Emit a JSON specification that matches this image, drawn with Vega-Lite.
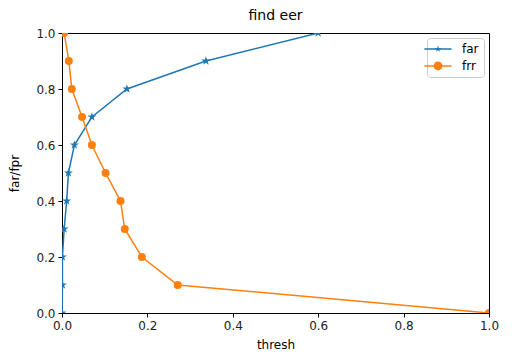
{
  "$schema": "https://vega.github.io/schema/vega-lite/v6.json",
  "autosize": "none",
  "width": 427,
  "height": 280,
  "padding": {"left": 62, "top": 33, "right": 37, "bottom": 43},
  "background": "white",
  "title": {"text": "find eer", "font": "DejaVu Sans", "fontSize": 14, "fontWeight": "normal", "color": "#000000", "offset": 4},
  "config": {
    "view": {"stroke": "#000000", "strokeWidth": 1},
    "axis": {
      "labelFont": "DejaVu Sans", "labelFontSize": 12, "labelColor": "#222222", "labelFlush": false, "labelOverlap": false,
      "titleFont": "DejaVu Sans", "titleFontSize": 12, "titleFontWeight": "normal", "titleColor": "#000000",
      "domainColor": "#000000", "tickColor": "#000000", "tickSize": 4, "labelPadding": 3, "grid": false
    }
  },
  "data": {"values": [
    {"series": "far", "i": 0, "thresh": 0.0, "rate": 0.0},
    {"series": "far", "i": 1, "thresh": 0.001, "rate": 0.1},
    {"series": "far", "i": 2, "thresh": 0.001, "rate": 0.2},
    {"series": "far", "i": 3, "thresh": 0.005, "rate": 0.3},
    {"series": "far", "i": 4, "thresh": 0.011, "rate": 0.4},
    {"series": "far", "i": 5, "thresh": 0.015, "rate": 0.5},
    {"series": "far", "i": 6, "thresh": 0.029, "rate": 0.6},
    {"series": "far", "i": 7, "thresh": 0.07, "rate": 0.7},
    {"series": "far", "i": 8, "thresh": 0.152, "rate": 0.8},
    {"series": "far", "i": 9, "thresh": 0.337, "rate": 0.9},
    {"series": "far", "i": 10, "thresh": 0.6, "rate": 1.0},
    {"series": "frr", "i": 0, "thresh": 0.005, "rate": 1.0},
    {"series": "frr", "i": 1, "thresh": 0.016, "rate": 0.9},
    {"series": "frr", "i": 2, "thresh": 0.023, "rate": 0.8},
    {"series": "frr", "i": 3, "thresh": 0.047, "rate": 0.7},
    {"series": "frr", "i": 4, "thresh": 0.07, "rate": 0.6},
    {"series": "frr", "i": 5, "thresh": 0.102, "rate": 0.5},
    {"series": "frr", "i": 6, "thresh": 0.137, "rate": 0.4},
    {"series": "frr", "i": 7, "thresh": 0.147, "rate": 0.3},
    {"series": "frr", "i": 8, "thresh": 0.187, "rate": 0.2},
    {"series": "frr", "i": 9, "thresh": 0.271, "rate": 0.1},
    {"series": "frr", "i": 10, "thresh": 1.0, "rate": 0.0}
  ]},
  "encoding": {
    "x": {"field": "thresh", "type": "quantitative", "scale": {"domain": [0, 1], "nice": false, "zero": false},
          "axis": {"title": "thresh", "values": [0, 0.2, 0.4, 0.6, 0.8, 1.0], "format": ".1f", "titlePadding": 8}},
    "y": {"field": "rate", "type": "quantitative", "scale": {"domain": [0, 1], "nice": false, "zero": false},
          "axis": {"title": "far/fpr", "values": [0, 0.2, 0.4, 0.6, 0.8, 1.0], "format": ".1f", "titlePadding": 14}},
    "order": {"field": "i", "type": "quantitative"}
  },
  "layer": [
    {"transform": [{"filter": "datum.series === 'far'"}], "mark": {"type": "line", "strokeWidth": 1.5, "clip": true, "color": "#1f77b4"}},
    {"transform": [{"filter": "datum.series === 'far'"}], "mark": {"type": "point", "filled": true, "opacity": 1, "size": 90, "clip": true, "color": "#1f77b4",
      "shape": "M0,-1L0.225,-0.309L0.951,-0.309L0.363,0.118L0.588,0.809L0,0.382L-0.588,0.809L-0.363,0.118L-0.951,-0.309L-0.225,-0.309Z"}},
    {"transform": [{"filter": "datum.series === 'frr'"}], "mark": {"type": "line", "strokeWidth": 1.5, "clip": true, "color": "#ff7f0e"}},
    {"transform": [{"filter": "datum.series === 'frr'"}], "mark": {"type": "point", "filled": true, "opacity": 1, "size": 64, "clip": true, "shape": "circle", "color": "#ff7f0e"}},
    {"transform": [{"filter": "false"}],
     "mark": {"type": "point", "filled": true, "opacity": 1},
     "encoding": {
       "color": {"field": "series", "type": "nominal", "scale": {"domain": ["far", "frr"], "range": ["#1f77b4", "#ff7f0e"]},
         "legend": {"title": null, "orient": "top-right", "offset": 5, "strokeColor": "#cccccc", "cornerRadius": 3, "fillColor": "white",
           "padding": 5, "labelFont": "DejaVu Sans", "labelFontSize": 12, "labelColor": "#000000", "symbolSize": 46, "symbolStrokeWidth": 0,
           "labelOffset": 18, "rowPadding": 5}},
       "shape": {"field": "series", "type": "nominal", "scale": {"domain": ["far", "frr"], "range": [
         "M-4,-0.22H4V0.22H-4Z M0,-1L0.225,-0.309L0.951,-0.309L0.363,0.118L0.588,0.809L0,0.382L-0.588,0.809L-0.363,0.118L-0.951,-0.309L-0.225,-0.309Z",
         "M-4,-0.22H4V0.22H-4Z M1.3,0A1.3,1.3,0,1,1,-1.3,0A1.3,1.3,0,1,1,1.3,0Z"]},
         "legend": {"title": null, "orient": "top-right", "offset": 5, "strokeColor": "#cccccc", "cornerRadius": 3, "fillColor": "white",
           "padding": 5, "labelFont": "DejaVu Sans", "labelFontSize": 12, "labelColor": "#000000", "symbolSize": 46, "symbolStrokeWidth": 0,
           "labelOffset": 18, "rowPadding": 5}}
     }}
  ]
}
